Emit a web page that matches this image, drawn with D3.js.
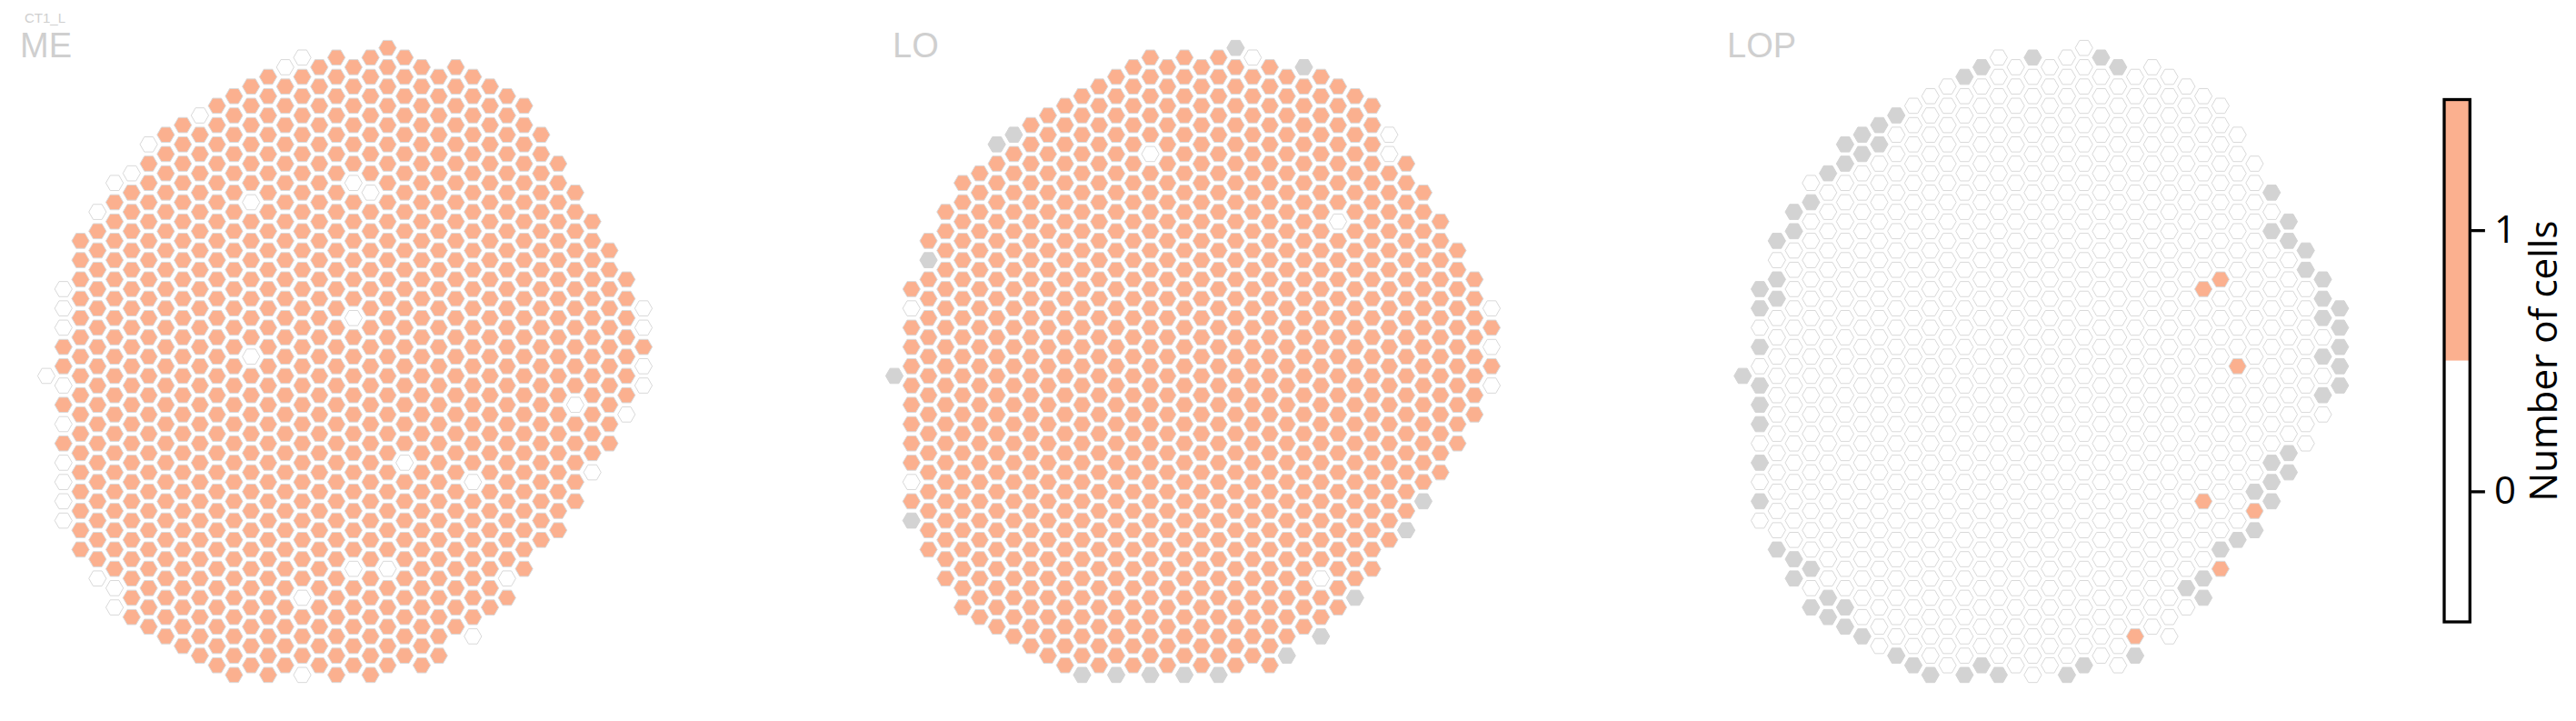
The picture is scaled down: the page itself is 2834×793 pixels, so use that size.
<!DOCTYPE html>
<html>
<head>
<meta charset="utf-8">
<script src="https://cdn.jsdelivr.net/npm/d3@7"></script>
<style>
  html, body { margin: 0; padding: 0; background: #ffffff; }
  svg { display: block; }
</style>
</head>
<body>
<svg id="chart" width="2834" height="793"></svg>
<script>
// ---------------- data ----------------
const panelNames = ["ME", "LO", "LOP"];
const cellTypeLabel = "CT1_L";

// shared hexagonal column layout: for each hex column (left to right),
// the first and last half-row index occupied (rows step by 2 within a column)
const columnFirstRow = [34,25,20,17,14,13,10,9,8,7,6,5,4,3,2,1,2,1,2,1,0,1,2,3,2,3,4,5,6,9,12,15,18,21,24,27];
const columnLastRow  = [34,49,52,55,58,59,60,61,62,63,64,65,64,65,64,65,64,65,64,65,64,63,64,63,60,61,58,57,54,51,50,47,44,41,38,35];

// ME: every column has 1 cell except these (0 cells)
const meDefaultValue = 1;
const meZeroCells = [[15,1],[14,2],[9,7],[6,10],[5,13],[4,14],[3,17],[12,16],[18,14],[19,15],
  [1,25],[1,27],[1,29],[18,28],[35,27],[35,29],[35,33],[35,35],[12,32],[0,34],[1,35],[1,39],
  [1,43],[1,45],[1,47],[1,49],[31,37],[34,38],[21,43],[25,45],[32,44],[3,55],[4,56],[4,58],
  [18,54],[20,54],[15,57],[27,55],[25,61],[15,65]];
const meMissingCells = [];

// LO: 1 cell by default, some 0 and some missing columns
const loDefaultValue = 1;
const loZeroCells = [[21,1],[15,11],[29,9],[29,11],[26,18],[1,27],[35,27],[35,31],[35,35],[1,45],[25,55]];
const loMissingCells = [[20,0],[24,2],[7,9],[6,10],[2,22],[0,34],[1,49],[31,47],[30,50],[27,57],
  [25,61],[23,63],[11,65],[13,65],[15,65],[17,65],[19,65]];

// LOP: 0 cells by default, a few with 1, many missing at the rim
const lopDefaultValue = 0;
const lopOneCells = [[27,25],[28,24],[29,33],[27,47],[30,48],[28,54],[23,61]];
const lopMissingCells = [[17,1],[14,2],[13,3],[21,1],[22,2],
  [9,7],[8,8],[8,10],[7,9],[7,11],[6,10],[6,12],[5,13],[4,16],[3,17],[3,19],[2,20],[2,24],[2,26],
  [1,25],[1,27],[1,31],[0,34],[1,35],[1,37],[1,39],[1,43],[1,47],
  [2,52],[3,53],[3,55],[4,54],[4,58],[5,57],[5,59],[6,58],[6,60],[7,61],[9,63],[10,64],[11,65],
  [13,65],[14,64],[15,65],[19,65],[20,64],[23,63],[26,56],[27,55],[27,57],[28,52],[29,51],[30,50],
  [30,46],[31,47],[31,45],[31,43],[32,44],[32,42],[34,36],[35,35],[35,33],[34,32],[35,31],[35,29],
  [34,28],[35,27],[34,26],[34,24],[33,23],[33,21],[32,20],[32,18],[31,19],[31,15]];

const colorbarTicks = [0, 1];
const colorbarTitle = "Number of cells";

// ---------------- drawing ----------------
const svg = d3.select("#chart");
const ORANGE = "#fbb08f";
const MISSING = "#d3d3d3";
const LINE = "#d9d9d9";
const LABEL = "#cfcfcf";

const panelLeft = [51, 984, 1917.3];
const colPitch = 18.77;
const nCols = columnFirstRow.length;
const yScale = d3.scaleLinear().domain([0, 65]).range([52.7, 52.7 + 65 * 10.61]);
const colorScale = d3.scaleThreshold().domain([0.5]).range(["#ffffff", ORANGE]);

const R = 9.6;
const hexPath = "M" + d3.range(6).map(k => {
  const a = Math.PI / 3 * k;
  return [R * Math.cos(a), R * Math.sin(a)].join(",");
}).join("L") + "Z";

function buildCells(defaultValue, exceptions) {
  const key = (c, r) => c + "_" + r;
  const special = new Map();
  exceptions.forEach(([list, v]) => list.forEach(([c, r]) => special.set(key(c, r), v)));
  const cells = [];
  for (let c = 0; c < nCols; c++) {
    for (let r = columnFirstRow[c]; r <= columnLastRow[c]; r += 2) {
      const k = key(c, r);
      cells.push({ col: c, row: r, value: special.has(k) ? special.get(k) : defaultValue });
    }
  }
  return cells;
}

const panelCells = [
  buildCells(meDefaultValue, [[meZeroCells, 0], [meMissingCells, null]]),
  buildCells(loDefaultValue, [[loZeroCells, 0], [loMissingCells, null]]),
  buildCells(lopDefaultValue, [[lopOneCells, 1], [lopMissingCells, null]])
];

const labelX = [22, 982, 1900];
const LABEL_FONT = "'Liberation Sans', Arial, Helvetica, sans-serif";
const CB_FONT = "'Open Sans', 'Liberation Sans', Arial, sans-serif";

panelNames.forEach((name, i) => {
  const xScale = d3.scaleLinear().domain([0, nCols - 1])
    .range([panelLeft[i], panelLeft[i] + (nCols - 1) * colPitch]);
  const g = svg.append("g").attr("class", "panel");
  g.selectAll("path.hex").data(panelCells[i]).join("path")
    .attr("class", "hex")
    .attr("d", hexPath)
    .attr("transform", d => `translate(${xScale(d.col)},${yScale(d.row)})`)
    .attr("fill", d => d.value === null ? MISSING : colorScale(d.value))
    .attr("stroke", d => d.value === null ? MISSING : LINE)
    .attr("stroke-width", 1);

  svg.append("text")
    .attr("x", labelX[i]).attr("y", 63)
    .attr("font-family", LABEL_FONT)
    .attr("font-size", 38)
    .attr("fill", LABEL)
    .text(name);
});

svg.append("text")
  .attr("x", 27).attr("y", 25)
  .attr("font-family", LABEL_FONT)
  .attr("font-size", 15)
  .attr("fill", LABEL)
  .text(cellTypeLabel);

// colorbar
const cbScale = d3.scaleLinear().domain([-0.5, 1.5]).range([684, 109.5]);
const cbX = 2689, cbW = 28.3;
const cb = svg.append("g");
cb.append("rect").attr("x", cbX).attr("y", cbScale(1.5)).attr("width", cbW)
  .attr("height", cbScale(0.5) - cbScale(1.5)).attr("fill", ORANGE);
cb.append("rect").attr("x", cbX).attr("y", cbScale(0.5)).attr("width", cbW)
  .attr("height", cbScale(-0.5) - cbScale(0.5)).attr("fill", "#ffffff");
cb.append("rect").attr("x", cbX).attr("y", cbScale(1.5)).attr("width", cbW)
  .attr("height", cbScale(-0.5) - cbScale(1.5)).attr("fill", "none")
  .attr("stroke", "#000").attr("stroke-width", 3.3);

const axis = d3.axisRight(cbScale).tickValues(colorbarTicks).tickSize(15).tickPadding(10)
  .tickFormat(d3.format("d"));
const ag = cb.append("g").attr("transform", `translate(${cbX + cbW + 1.6},0)`).call(axis);
ag.select(".domain").remove();
ag.selectAll(".tick line").attr("stroke", "#000").attr("stroke-width", 3.3);
ag.selectAll(".tick text")
  .attr("font-family", CB_FONT)
  .attr("font-size", 42).attr("fill", "#000");

cb.append("text")
  .attr("transform", `translate(2813,397) rotate(-90)`)
  .attr("text-anchor", "middle")
  .attr("font-family", CB_FONT)
  .attr("font-size", 42).attr("fill", "#000")
  .text(colorbarTitle);
</script>
</body>
</html>
